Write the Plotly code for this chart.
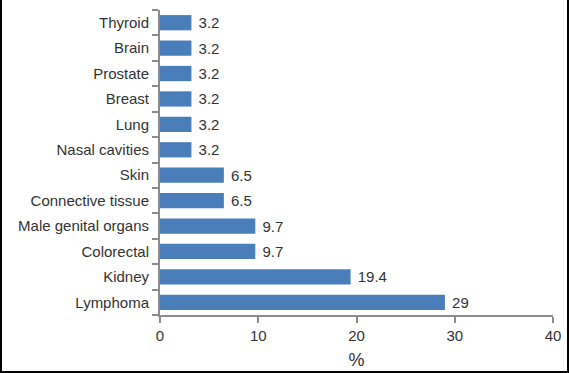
import plotly.graph_objects as go

categories = ["Lymphoma", "Kidney", "Colorectal", "Male genital organs", "Connective tissue",
              "Skin", "Nasal cavities", "Lung", "Breast", "Prostate", "Brain", "Thyroid"]
values = [29, 19.4, 9.7, 9.7, 6.5, 6.5, 3.2, 3.2, 3.2, 3.2, 3.2, 3.2]
value_labels = ["29", "19.4", "9.7", "9.7", "6.5", "6.5", "3.2", "3.2", "3.2", "3.2", "3.2", "3.2"]
x_ticks = [0, 10, 20, 30, 40]

W, H = 569, 373
L, R, T, B = 160, 16, 10, 58
pw, ph = W - L - R, H - T - B
FONT = "Liberation Sans, Arial, sans-serif"
TXT = "#333333"

fig = go.Figure(go.Bar(
    y=categories, x=values, orientation="h",
    marker=dict(color="#4A7EBB", line=dict(width=0)),
    width=0.6,
    text=value_labels, texttemplate=" %{text}", textposition="outside",
    cliponaxis=False, constraintext="none",
    textfont=dict(family=FONT, size=15, color=TXT),
    hoverinfo="skip",
))

fig.update_layout(
    width=W, height=H, autosize=False,
    margin=dict(l=L, r=R, t=T, b=B, autoexpand=False),
    paper_bgcolor="white", plot_bgcolor="white",
    font=dict(family=FONT, size=15, color=TXT),
    showlegend=False,
    xaxis=dict(range=[0, 40], tickvals=x_ticks, showgrid=False, zeroline=False,
               showline=True, linecolor="#8c8c8c", linewidth=2,
               ticks="outside", ticklen=6, tickcolor="#8c8c8c", tickwidth=2,
               title=dict(text="%", standoff=10)),
    yaxis=dict(categoryorder="array", categoryarray=categories,
               showgrid=False, zeroline=False, showline=True, linecolor="#8c8c8c", linewidth=2,
               ticks="outside", tickson="boundaries", ticklen=6, tickcolor="#8c8c8c", tickwidth=2,
               ticklabelstandoff=6),
    bargap=0.4,
)

fig.add_shape(type="rect", xref="paper", yref="paper",
              x0=(1 - L) / pw, x1=(W - 1 - L) / pw,
              y0=-(H - 1 - T - ph) / ph, y1=(H - 1 - T) / ph,
              line=dict(color="black", width=2), fillcolor="rgba(0,0,0,0)", layer="above")

fig.write_html("out.html", config={"displayModeBar": False},
               post_script="document.body.style.margin='0';document.body.style.padding='0';")
